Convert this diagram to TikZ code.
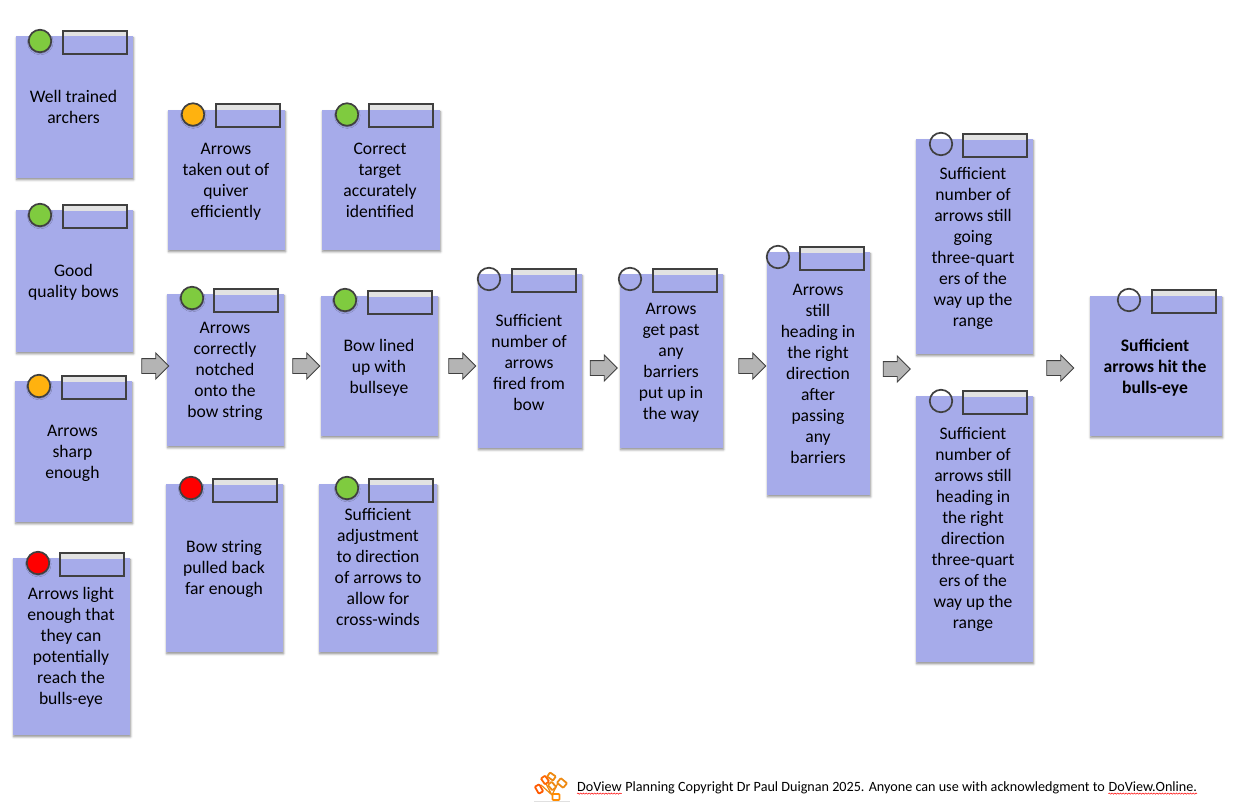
\documentclass[tikz,border=0pt]{standalone}
\usepackage{fontspec}
\setmainfont{Carlito}
\usetikzlibrary{shapes.arrows,shadows.blur,decorations.pathmorphing}
\definecolor{cardblue}{HTML}{A6ABEA}
\definecolor{sgreen}{HTML}{7FCB3F}
\definecolor{samber}{HTML}{FFB20F}
\definecolor{sred}{HTML}{FF0000}
\definecolor{edgegrey}{HTML}{404040}
\definecolor{arrowgrey}{HTML}{B4B4B4}
\definecolor{barlight}{HTML}{E2E2E2}
\definecolor{logoorange}{HTML}{EE8A12}
\tikzset{
  x=1pt,y=-1pt,
  softshadow/.style={blur shadow={shadow xshift=0.4pt,shadow yshift=-1.6pt,shadow blur radius=2.2pt,shadow opacity=45}},
  cardbox/.style={rectangle,fill=cardblue,draw=none,inner sep=0pt,anchor=north west,softshadow},
  cardtext/.style={align=center,font=\fontsize{17.6}{21}\selectfont,text=black,inner sep=0pt},
  lampdot/.style={circle,draw=edgegrey,line width=1.7pt,minimum size=22.5pt,inner sep=0pt,blur shadow={shadow xshift=0.3pt,shadow yshift=-1pt,shadow blur radius=1.6pt,shadow opacity=35}},
  lamphollow/.style={circle,draw=edgegrey,line width=1.7pt,minimum size=22.5pt,inner sep=0pt},
  tagbox/.style={rectangle,draw=edgegrey,line width=1.7pt,minimum width=64pt,minimum height=23pt,inner sep=0pt,anchor=north west},
  flowarrow/.style={single arrow,draw=edgegrey,fill=arrowgrey,line width=.9pt,minimum height=27pt,minimum width=25pt,single arrow head extend=5.5pt,inner sep=0pt},
  foottext/.style={font=\fontsize{14.15}{16}\selectfont,text=black,inner sep=0pt,anchor=base west},
  squiggle/.style={red,line width=.5pt,decorate,decoration={snake,amplitude=.6pt,segment length=2.8pt}},
  logobit/.style={draw=logoorange,line width=1.8pt,rounded corners=.8pt,fill=white}
}
% name, left, top, width, height
\newcommand{\card}[5]{\node[cardbox,minimum width=#4pt,minimum height=#5pt] (#1) at (#2,#3) {};}
% name, tag left, tag top  (grey band runs from tag top to card top)
\newcommand{\tag}[3]{%
  \path[fill=barlight] (#2,#3) rectangle (#2+64,#3+6.5);
  \node[tagbox] (#1) at (#2,#3) {};}
\newcommand{\shaftstrut}{\rule{0pt}{14pt}}
\begin{document}
\begin{tikzpicture}
\useasboundingbox (0,0) rectangle (1250,808);
% cards
\card{c1}{16}{36}{117}{142}
\card{c2}{16}{210}{117}{142}
\card{c3}{15}{381}{117}{141}
\card{c4}{13}{558}{117}{177}
\card{c5}{168}{110}{117}{140}
\card{c6}{167}{294}{117}{152}
\card{c7}{166}{484}{117}{168}
\card{c8}{322}{110}{118}{140}
\card{c9}{321}{296}{117}{140}
\card{c10}{319}{484}{118}{168}
\card{c11}{478}{274}{104}{174}
\card{c12}{620}{274}{103}{174}
\card{c13}{767}{252}{103}{243}
\card{c14}{916}{139}{117}{215}
\card{c15}{916}{396}{117}{266}
\card{c16}{1090}{296}{132}{140}
% tags
\tag{t1}{62}{30}
\tag{t2}{62}{204}
\tag{t3}{61}{375}
\tag{t4}{59}{552}
\tag{t5}{215}{103}
\tag{t6}{213}{288}
\tag{t7}{212}{478}
\tag{t8}{368}{103}
\tag{t9}{367}{290}
\tag{t10}{368}{478}
\tag{t11}{511}{268}
\tag{t12}{652}{268}
\tag{t13}{799}{246}
\tag{t14}{962}{133}
\tag{t15}{962}{390}
\tag{t16}{1151}{289}
% status lamps
\node[lampdot,fill=sgreen] (l1) at (40,41) {};
\node[lampdot,fill=sgreen] (l2) at (40,215) {};
\node[lampdot,fill=samber] (l3) at (39,386) {};
\node[lampdot,fill=sred] (l4) at (38,563) {};
\node[lampdot,fill=samber] (l5) at (193,114.5) {};
\node[lampdot,fill=sgreen] (l6) at (192,298) {};
\node[lampdot,fill=sred] (l7) at (191,488) {};
\node[lampdot,fill=sgreen] (l8) at (347,114.5) {};
\node[lampdot,fill=sgreen] (l9) at (345,300) {};
\node[lampdot,fill=sgreen] (l10) at (347,488) {};
\node[lamphollow] (l11) at (489,279) {};
\node[lamphollow] (l12) at (630,279) {};
\node[lamphollow] (l13) at (778,257) {};
\node[lamphollow] (l14) at (941,144) {};
\node[lamphollow] (l15) at (941,401) {};
\node[lamphollow] (l16) at (1129,300) {};
% texts
\node[cardtext] (x1) at (73.5,107) {Well trained\\archers};
\node[cardtext] (x2) at (73.5,282) {Good\\quality bows};
\node[cardtext] (x3) at (72.5,453) {Arrows\\sharp\\enough};
\node[cardtext] (x4) at (71,647) {Arrows light\\enough that\\they can\\potentially\\reach the\\bulls-eye};
\node[cardtext] (x5) at (226,181.5) {Arrows\\taken out of\\quiver\\efficiently};
\node[cardtext] (x6) at (225,371) {Arrows\\correctly\\notched\\onto the\\bow string};
\node[cardtext] (x7) at (224,569) {Bow string\\pulled back\\far enough};
\node[cardtext] (x8) at (380,180) {Correct\\target\\accurately\\identified};
\node[cardtext] (x9) at (379,368) {Bow lined\\up with\\bullseye};
\node[cardtext] (x10) at (378,567) {Sufficient\\adjustment\\to direction\\of arrows to\\allow for\\cross-winds};
\node[cardtext] (x11) at (529,362) {Sufficient\\number of\\arrows\\fired from\\bow};
\node[cardtext] (x12) at (671,363) {Arrows\\get past\\any\\barriers\\put up in\\the way};
\node[cardtext] (x13) at (818,373.5) {Arrows\\still\\heading in\\the right\\direction\\after\\passing\\any\\barriers};
\node[cardtext] (x14) at (973,248) {Sufficient\\number of\\arrows still\\going\\three-quart\\ers of the\\way up the\\range};
\node[cardtext] (x15) at (973,529.5) {Sufficient\\number of\\arrows still\\heading in\\the right\\direction\\three-quart\\ers of the\\way up the\\range};
\node[cardtext,font=\fontsize{17.6}{21}\selectfont\bfseries] (x16) at (1155,368) {Sufficient\\arrows hit the\\bulls-eye};
% block arrows
\node[flowarrow] (a1) at (151.5,366) {\shaftstrut};
\node[flowarrow] (a2) at (302.5,366) {\shaftstrut};
\node[flowarrow] (a3) at (458.5,366) {\shaftstrut};
\node[flowarrow] (a4) at (600,368) {\shaftstrut};
\node[flowarrow] (a5) at (748.5,366) {\shaftstrut};
\node[flowarrow] (a6) at (893,369) {\shaftstrut};
\node[flowarrow] (a7) at (1056.5,368) {\shaftstrut};
% logo
\path[fill=black,opacity=.12] (534,800.5) rectangle (570,802);
\draw[logoorange,line width=1.2pt] (546,784) -- (552,795) (559,781) -- (552,795) (541,785) -- (552,795);
\node[logobit,rectangle,rotate=-35,minimum width=7pt,minimum height=5pt,inner sep=0pt] (g1) at (551.5,776.5) {};
\node[logobit,rectangle,rotate=-55,minimum width=7pt,minimum height=5pt,inner sep=0pt,draw=orange!80!red] (g2) at (545,780) {};
\node[logobit,rectangle,rotate=-60,minimum width=8pt,minimum height=5pt,inner sep=0pt,draw=orange!70!red] (g3) at (539,789) {};
\node[logobit,rectangle,rotate=-40,minimum width=8pt,minimum height=6pt,inner sep=0pt] (g4) at (562,783) {};
\node[logobit,rectangle,rotate=-50,minimum width=7pt,minimum height=5pt,inner sep=0pt] (g5) at (552,786) {};
\node[logobit,rectangle,minimum width=7pt,minimum height=6pt,inner sep=0pt,draw=orange!90!yellow] (g6) at (556,797) {};
% footer
\node[foottext] (f1) at (577,791) {DoView};
\node[foottext] (f2) at ([xshift=3.2pt]f1.base east) {Planning Copyright Dr Paul Duignan 2025. Anyone can use with acknowledgment to};
\node[foottext] (f3) at ([xshift=3.2pt]f2.base east) {DoView.Online.};
\draw[squiggle] ([yshift=-2.6pt]f1.base west) -- ([yshift=-2.6pt]f1.base east);
\draw[squiggle] ([yshift=-2.6pt]f3.base west) -- ([yshift=-2.6pt]f3.base east);
\end{tikzpicture}
\end{document}
